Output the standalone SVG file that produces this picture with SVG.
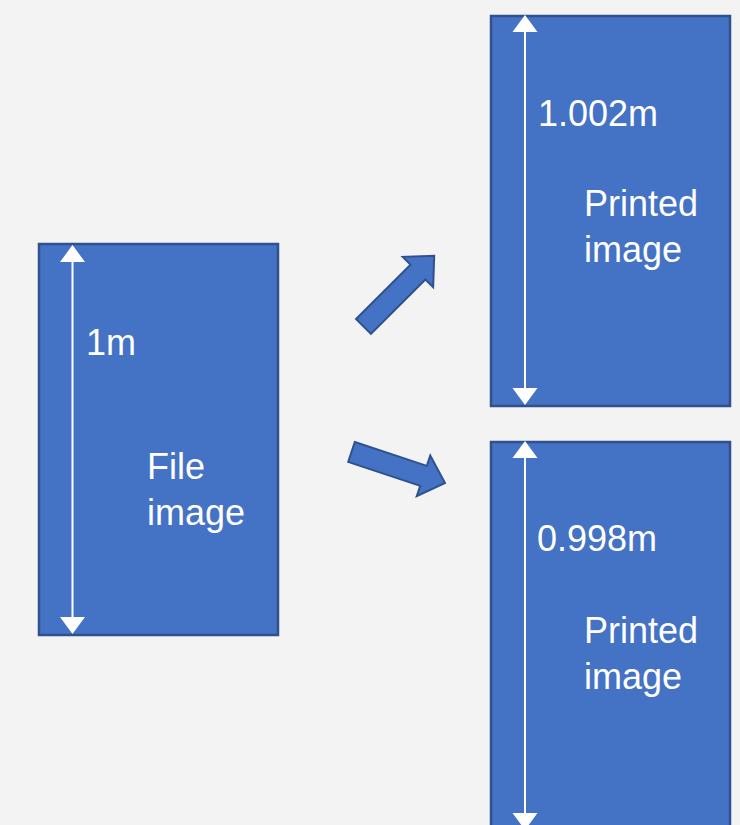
<svg xmlns="http://www.w3.org/2000/svg" width="740" height="825" viewBox="0 0 740 825">
  <style>
    .box { fill: #4472C4; stroke: #2F528F; stroke-width: 2.5; }
    .dim { stroke: #FFFFFF; stroke-width: 2; fill: none; }
    .head { fill: #FFFFFF; }
    .lbl { font-family: "Liberation Sans", Arial, sans-serif; font-size: 36px; fill: #FFFFFF; }
    .blk { fill: #4472C4; stroke: #2F528F; stroke-width: 2; }
  </style>
  <defs>
    <path id="blockArrow" d="M0,-10.5 L77,-10.5 L77,-21.5 L100,0 L77,21.5 L77,10.5 L0,10.5 Z"/>
    <path id="headUp" d="M0,0 L12.5,17 L-12.5,17 Z"/>
    <path id="headDown" d="M0,0 L12.5,-17 L-12.5,-17 Z"/>
  </defs>
  <rect x="0" y="0" width="740" height="825" fill="#F3F3F3"/>

  <g id="file-image">
    <rect class="box" x="39" y="244" width="239" height="391"/>
    <line class="dim" x1="72.5" y1="258" x2="72.5" y2="620"/>
    <use href="#headUp" class="head" x="72.5" y="245"/>
    <use href="#headDown" class="head" x="72.5" y="634"/>
    <text class="lbl" x="86" y="355">1m</text>
    <text class="lbl" x="147" y="479">File</text>
    <text class="lbl" x="147" y="525">image</text>
  </g>

  <g id="printed-large">
    <rect class="box" x="491" y="16" width="239" height="390"/>
    <line class="dim" x1="525" y1="28" x2="525" y2="392"/>
    <use href="#headUp" class="head" x="525" y="15"/>
    <use href="#headDown" class="head" x="525" y="405"/>
    <text class="lbl" x="538" y="126">1.002m</text>
    <text class="lbl" x="584" y="216">Printed</text>
    <text class="lbl" x="584" y="262">image</text>
  </g>

  <g id="printed-small">
    <rect class="box" x="491" y="442" width="239" height="400"/>
    <line class="dim" x1="525" y1="455" x2="525" y2="818"/>
    <use href="#headUp" class="head" x="525" y="441"/>
    <use href="#headDown" class="head" x="525" y="830"/>
    <text class="lbl" x="537" y="551">0.998m</text>
    <text class="lbl" x="584" y="643">Printed</text>
    <text class="lbl" x="584" y="689">image</text>
  </g>

  <g id="connectors">
    <use href="#blockArrow" class="blk" transform="translate(363.5,326.5) rotate(-45)"/>
    <use href="#blockArrow" class="blk" transform="translate(351.5,452) rotate(18.3) scale(0.985,1)"/>
  </g>
</svg>
